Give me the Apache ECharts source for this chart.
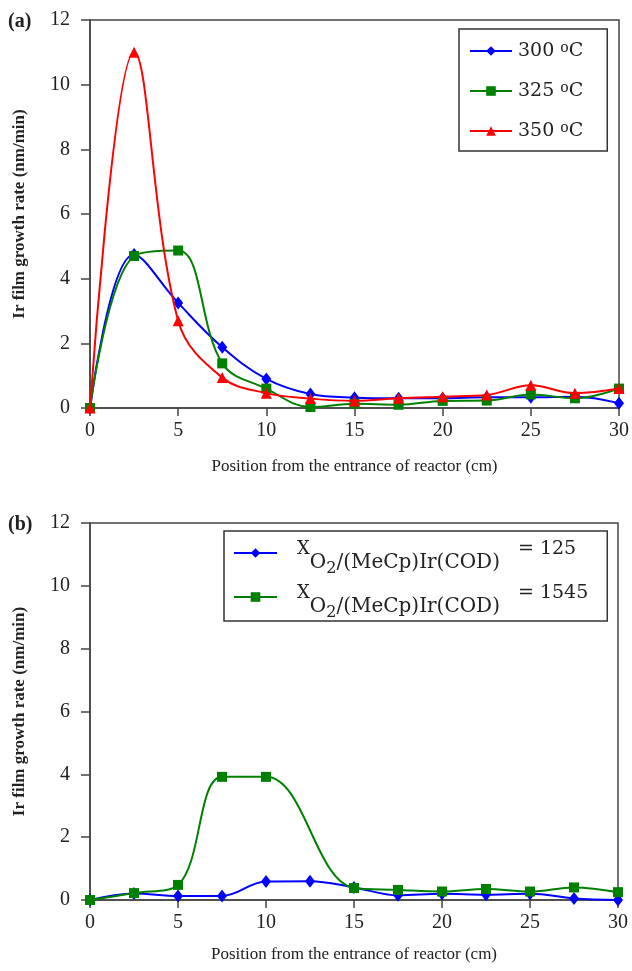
<!DOCTYPE html>
<html>
<head>
<meta charset="utf-8">
<script src="https://cdn.jsdelivr.net/npm/echarts@6/dist/echarts.min.js"></script>
<style>
html,body{margin:0;padding:0;background:#fff;}
#chart{width:632px;height:971px;}
</style>
</head>
<body>
<div id="chart"></div>
<script>
// ---- data ----
var positions = [0, 2.5, 5, 7.5, 10, 12.5, 15, 17.5, 20, 22.5, 25, 27.5, 30];
var xTicks = [0, 5, 10, 15, 20, 25, 30];
var yTicks = [0, 2, 4, 6, 8, 10, 12];
var a300 = [0, 4.75, 3.25, 1.88, 0.9, 0.43, 0.32, 0.3, 0.3, 0.33, 0.33, 0.35, 0.15];
var a325 = [0, 4.7, 4.87, 1.38, 0.6, 0.03, 0.13, 0.1, 0.22, 0.23, 0.42, 0.3, 0.6];
var a350 = [0, 11.0, 2.7, 0.94, 0.46, 0.29, 0.22, 0.3, 0.35, 0.4, 0.7, 0.46, 0.6];
var b125 = [0, 0.21, 0.13, 0.13, 0.59, 0.6, 0.4, 0.15, 0.2, 0.17, 0.2, 0.05, 0];
var b1545 = [0, 0.22, 0.48, 3.92, 3.92, null, 0.38, 0.32, 0.27, 0.35, 0.27, 0.4, 0.25];
var namesA = ['300 oC', '325 oC', '350 oC'];
var namesB = ['X O2/(MeCp)Ir(COD) = 125', 'X O2/(MeCp)Ir(COD) = 1545'];
var xTitle = 'Position from the entrance of reactor (cm)';
var yTitle = 'Ir film growth rate (nm/min)';

function pairs(vals) {
  return positions.map(function (x, i) { return [x, vals[i]]; });
}

var SERIF = "'Liberation Serif', 'Times New Roman', serif";
var LSERIF = "'DejaVu Serif', serif";
var axisColor = '#444';

function makeX(gi, gap) {
  return {
    type: 'value', gridIndex: gi, min: 0, max: 30, interval: 5,
    name: xTitle, nameLocation: 'middle', nameGap: gap,
    nameTextStyle: {fontFamily: SERIF, fontSize: 17, color: '#222'},
    axisLine: {onZero: false, lineStyle: {color: axisColor, width: 1.5}},
    axisTick: {show: true, inside: false, length: 8, lineStyle: {color: axisColor, width: 1.5}},
    axisLabel: {fontFamily: SERIF, fontSize: 20, color: '#222', margin: 13},
    splitLine: {show: false}
  };
}
function makeY(gi) {
  return {
    type: 'value', gridIndex: gi, min: 0, max: 12, interval: 2,
    name: yTitle, nameLocation: 'middle', nameGap: 62,
    nameTextStyle: {fontFamily: SERIF, fontSize: 17, fontWeight: 'bold', color: '#222'},
    axisLine: {show: true, lineStyle: {color: axisColor, width: 1.5}},
    axisTick: {show: true, inside: false, length: 9, lineStyle: {color: axisColor, width: 1.5}},
    axisLabel: {fontFamily: SERIF, fontSize: 20, color: '#222', margin: 20},
    splitLine: {show: false}
  };
}

function line(name, vals, color, symbol, size, xi, yi, z) {
  return {
    name: name, type: 'line', xAxisIndex: xi, yAxisIndex: yi,
    data: pairs(vals), smooth: 0.38, connectNulls: true,
    symbol: symbol, symbolSize: size, showSymbol: true,
    lineStyle: {color: color, width: 2}, itemStyle: {color: color},
    z: z, animation: false
  };
}

var chart = echarts.init(document.getElementById('chart'), null, {renderer: 'canvas'});
chart.setOption({
  backgroundColor: '#fff',
  animation: false,
  title: [
    {text: '(a)', left: 3, top: 7, textStyle: {fontFamily: SERIF, fontSize: 20, fontWeight: 'bold', color: '#222'}},
    {text: '(b)', left: 3, top: 510, textStyle: {fontFamily: SERIF, fontSize: 20, fontWeight: 'bold', color: '#222'}}
  ],
  grid: [
    {left: 90, top: 20, width: 530, height: 388, show: true, borderColor: axisColor, borderWidth: 1.5, backgroundColor: 'transparent'},
    {left: 90, top: 523, width: 528, height: 377, show: true, borderColor: axisColor, borderWidth: 1.5, backgroundColor: 'transparent'}
  ],
  xAxis: [makeX(0, 50), makeX(1, 46)],
  yAxis: [makeY(0), makeY(1)],
  legend: [
    {
      data: namesA, orient: 'vertical', left: 459, top: 29,
      padding: [10, 24, 8, 10], itemGap: 16, itemWidth: 42, itemHeight: 12,
      borderColor: '#333', borderWidth: 1.5, backgroundColor: '#fff',
      formatter: function (n) { var p = n.split(' oC')[0]; return '{g| }{m|' + p + ' }{sup|o}{m|C}'; },
      textStyle: {fontFamily: LSERIF, fontSize: 19, color: '#222', lineHeight: 24,
        rich: {
          g: {width: 1, fontSize: 10, lineHeight: 24},
          m: {fontFamily: LSERIF, fontSize: 19, color: '#222', lineHeight: 24, verticalAlign: 'middle'},
          sup: {fontFamily: LSERIF, fontSize: 14, color: '#222', verticalAlign: 'top', height: 18, lineHeight: 24}
        }}
    },
    {
      data: namesB, orient: 'vertical', left: 224, top: 531,
      padding: [2, 19, 0, 9], itemGap: 0, itemWidth: 43, itemHeight: 12,
      borderColor: '#333', borderWidth: 1.5, backgroundColor: '#fff',
      formatter: function (n) {
        var v = n.split('= ')[1];
        return '{gap| }{x|X}{sub|O}{s2|2}{sub|/(MeCp)Ir(COD)}{eq|= ' + v + '}';
      },
      textStyle: {fontFamily: LSERIF, fontSize: 19, color: '#222', lineHeight: 40,
        rich: {
          gap: {width: 15, lineHeight: 40, fontSize: 10},
          x: {fontFamily: LSERIF, fontSize: 18, color: '#222', verticalAlign: 'top', height: 32, lineHeight: 40},
          sub: {fontFamily: LSERIF, fontSize: 20, color: '#222', verticalAlign: 'bottom', height: 20, lineHeight: 40},
          s2: {fontFamily: LSERIF, fontSize: 16, color: '#222', verticalAlign: 'bottom', height: 8, lineHeight: 40},
          eq: {fontFamily: LSERIF, fontSize: 19, color: '#222', verticalAlign: 'top', height: 32, lineHeight: 40, padding: [0, 0, 0, 18]}
        }}
    }
  ],
  series: [
    line(namesA[0], a300, '#0000ff', 'diamond', [10, 13], 0, 0, 2),
    line(namesA[1], a325, '#008000', 'rect', 10, 0, 0, 3),
    line(namesA[2], a350, '#ff0000', 'triangle', 11, 0, 0, 4),
    line(namesB[0], b125, '#0000ff', 'diamond', [10, 13], 1, 1, 2),
    line(namesB[1], b1545, '#008000', 'rect', 10, 1, 1, 3)
  ]
});
</script>
</body>
</html>
